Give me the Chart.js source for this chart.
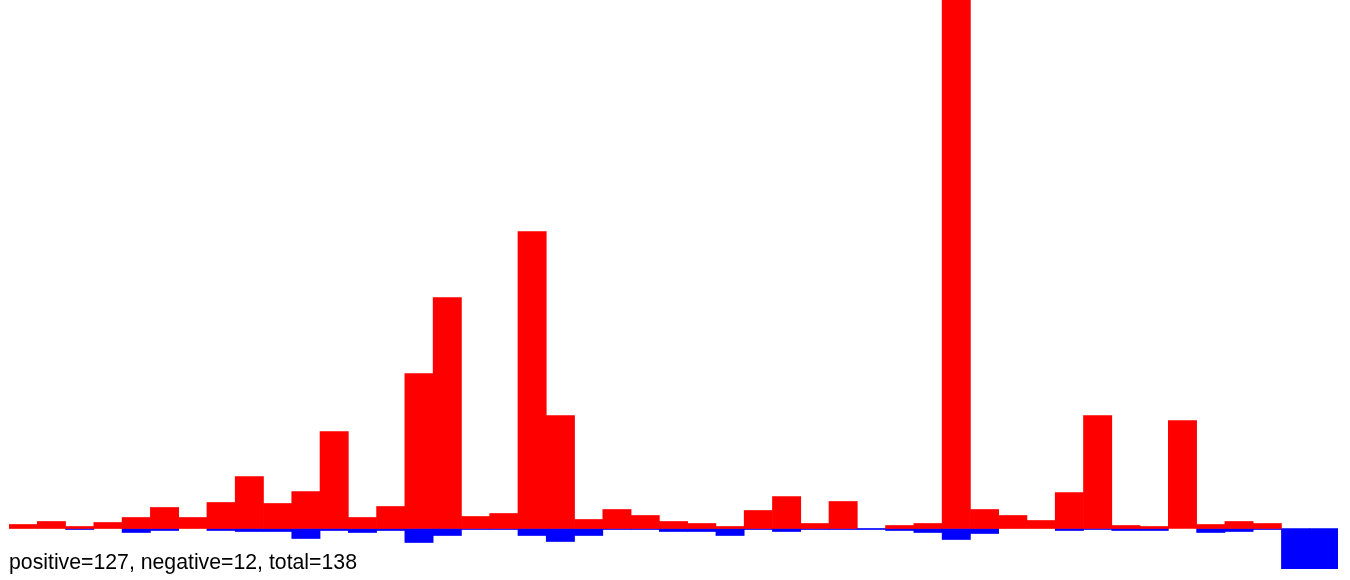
<!DOCTYPE html>
<html>
<head>
<meta charset="utf-8">
<script src="https://cdn.jsdelivr.net/npm/chart.js@4"></script>
<style>
  html, body { margin: 0; padding: 0; background: #fff; }
  #wrap { position: relative; width: 1350px; height: 580px; }
  #c { position: absolute; left: 0; top: 0; }
  #note { position: absolute; left: 9px; top: 551px; font-family: "Liberation Sans", Arial, sans-serif; font-size: 21.25px; color: #000; white-space: nowrap; line-height: 22px; }
</style>
</head>
<body>
<div id="wrap">
  <canvas id="c" width="1350" height="580"></canvas>
  <div id="note">positive=127, negative=12, total=138</div>
</div>
<script>
const categories = Array.from({length: 47}, (_, i) => String(i + 1));
const positiveValues = [4, 7, 2, 6, 11, 21, 11, 26, 52, 25, 37, 97, 11, 22, 155, 231, 12, 15, 297, 113,
  9, 19, 13, 7, 5, 2, 18, 32, 5, 27, null, 3, 5, 620, 19, 13, 8, 36, 113, 3,
  2, 108, 4, 7, 5, null, null];
const negativeValues = [null, null, -1, null, -4, -2, null, -2, -3, -3, -10, -2, -4, -2, -14, -7, -1, -1, -7, -13,
  -7, -1, -1, -3, -3, -7, -1, -3, -1, -1, -1, -2, -4, -11, -5, null, null, -2, -1, -2,
  -2, null, -4, -3, -1, -41, -41];

new Chart(document.getElementById('c'), {
  type: 'bar',
  data: {
    labels: categories,
    datasets: [
      { label: 'positive', data: positiveValues, backgroundColor: '#ff0000', borderWidth: 0,
        barPercentage: 1.0, categoryPercentage: 1.0 },
      { label: 'negative', data: negativeValues, backgroundColor: '#0000ff', borderWidth: 0,
        barPercentage: 1.0, categoryPercentage: 1.0 }
    ]
  },
  options: {
    responsive: false,
    animation: false,
    layout: { padding: { left: 9, right: 12, top: 0, bottom: 11 } },
    plugins: { legend: { display: false }, tooltip: { enabled: false }, title: { display: false } },
    scales: {
      x: { stacked: true, display: false, grid: { display: false } },
      y: { stacked: false, display: false, min: -40.5, max: 528.5, grid: { display: false } }
    }
  }
});
</script>
</body>
</html>
